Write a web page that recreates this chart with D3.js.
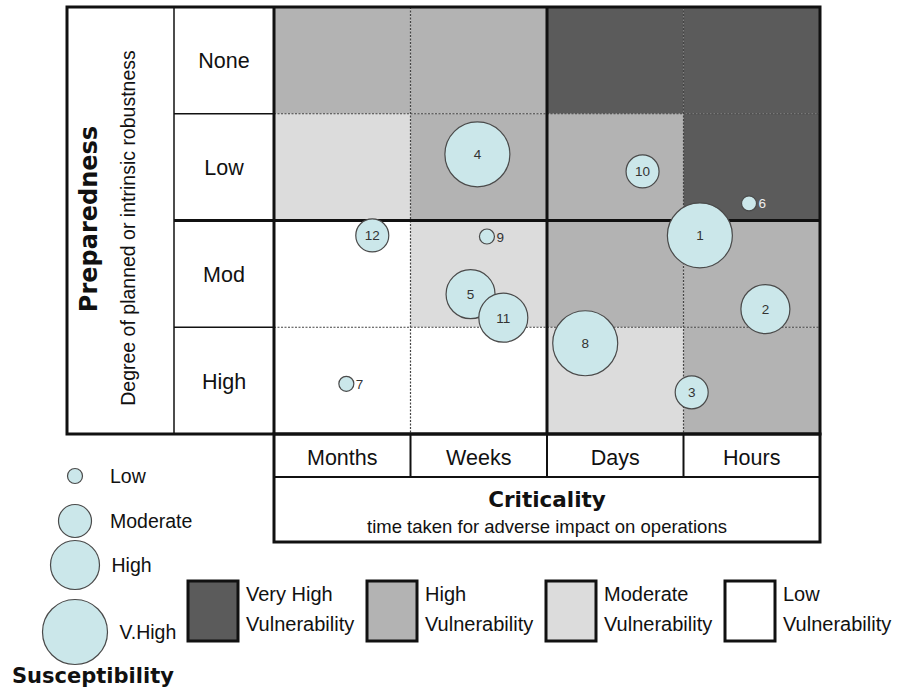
<!DOCTYPE html>
<html>
<head>
<meta charset="utf-8">
<script src="https://cdn.jsdelivr.net/npm/d3@7"></script>
<style>
  body { margin: 0; background: #fff; }
  text { font-family: "Liberation Sans", Arial, sans-serif; fill: #111; }
  .bold { font-family: "DejaVu Sans", sans-serif; font-weight: bold; }
</style>
</head>
<body>
<div id="app"></div>
<script>
// categories
var criticality = ["Months", "Weeks", "Days", "Hours"];
var preparedness = ["None", "Low", "Mod", "High"];
var vulnLevels = ["Very High", "High", "Moderate", "Low"];
var vulnColors = ["#5b5b5b", "#b3b3b3", "#dcdcdc", "#ffffff"];
// vulnerability class of each cell, rows = preparedness, cols = criticality
var vulnGrid = [
  [1, 1, 0, 0],
  [2, 1, 1, 0],
  [3, 2, 1, 1],
  [3, 3, 2, 1]
];
var susLevels = ["Low", "Moderate", "High", "V.High"];

// risks: position in column / row units (0..4), susceptibility class
var riskIds  = [1, 2, 3, 4, 5, 6, 7, 8, 9, 10, 11, 12];
var riskCrit = [3.12, 3.60, 3.06, 1.49, 1.44, 3.48, 0.53, 2.28, 1.56, 2.70, 1.68, 0.72];
var riskPrep = [2.14, 2.83, 3.61, 1.38, 2.69, 1.84, 3.53, 3.15, 2.15, 1.54, 2.91, 2.14];
var riskSus  = [3, 2, 1, 3, 2, 0, 0, 3, 0, 1, 2, 1];

var width = 901, height = 692;
var gx0 = 274, gx1 = 820, gy0 = 7, gy1 = 434;
var frameX = 67, labelX = 174;

var svg = d3.select("#app").append("svg").attr("width", width).attr("height", height);

var x = d3.scaleLinear().domain([0, 4]).range([gx0, gx1]);
var y = d3.scaleLinear().domain([0, 4]).range([gy0, gy1]);
var xb = d3.scaleBand().domain(criticality).range([gx0, gx1]);
var yb = d3.scaleBand().domain(preparedness).range([gy0, gy1]);
var r = d3.scaleOrdinal().domain([0, 1, 2, 3]).range([7.5, 16.5, 24.5, 32.5]);

// cells
var cells = [];
preparedness.forEach(function (p, i) {
  criticality.forEach(function (c, j) { cells.push({p: p, c: c, v: vulnGrid[i][j]}); });
});
svg.append("g").selectAll("rect").data(cells).join("rect")
  .attr("x", function (d) { return xb(d.c); })
  .attr("y", function (d) { return yb(d.p); })
  .attr("width", xb.bandwidth()).attr("height", yb.bandwidth())
  .attr("fill", function (d) { return vulnColors[d.v]; });

// dotted inner lines
var dots = svg.append("g").attr("stroke", "#444").attr("stroke-width", 1.2).attr("stroke-dasharray", "2,1.5");
[criticality[1], criticality[3]].forEach(function (c) {
  dots.append("line").attr("x1", xb(c)).attr("x2", xb(c)).attr("y1", gy0).attr("y2", gy1);
});
[preparedness[1], preparedness[3]].forEach(function (p) {
  dots.append("line").attr("x1", gx0).attr("x2", gx1).attr("y1", yb(p)).attr("y2", yb(p));
});

// label column lines
var lines = svg.append("g").attr("stroke", "#111");
[preparedness[1], preparedness[3]].forEach(function (p) {
  lines.append("line").attr("x1", labelX).attr("x2", gx0).attr("y1", yb(p)).attr("y2", yb(p)).attr("stroke-width", 1.5);
});
lines.append("line").attr("x1", labelX).attr("x2", labelX).attr("y1", gy0).attr("y2", gy1).attr("stroke-width", 1.5);

// quadrant lines
lines.append("line").attr("x1", labelX).attr("x2", gx1).attr("y1", yb("Mod")).attr("y2", yb("Mod")).attr("stroke-width", 3);
lines.append("line").attr("x1", xb("Days")).attr("x2", xb("Days")).attr("y1", gy0).attr("y2", gy1).attr("stroke-width", 3);
lines.append("line").attr("x1", gx0).attr("x2", gx0).attr("y1", gy0).attr("y2", gy1).attr("stroke-width", 3);

// outer frame
svg.append("rect").attr("x", frameX).attr("y", gy0).attr("width", gx1 - frameX).attr("height", gy1 - gy0)
  .attr("fill", "none").attr("stroke", "#111").attr("stroke-width", 3);

// row labels
svg.append("g").selectAll("text").data(preparedness).join("text")
  .attr("x", (labelX + gx0) / 2)
  .attr("y", function (d) { return yb(d) + yb.bandwidth() / 2 + 8; })
  .attr("text-anchor", "middle").style("font-size", "21.5px")
  .text(function (d) { return d; });

// y titles
svg.append("text").attr("class", "bold").attr("transform", "translate(97,219) rotate(-90)")
  .attr("text-anchor", "middle").style("font-size", "24px").text("Preparedness");
svg.append("text").attr("transform", "translate(135,228) rotate(-90)")
  .attr("text-anchor", "middle").style("font-size", "19.5px").text("Degree of planned or intrinsic robustness");

// criticality box
var cy0 = gy1, cy1 = 477, cy2 = 542;
svg.append("g").selectAll("line").data(criticality.slice(1)).join("line")
  .attr("x1", function (d) { return xb(d); }).attr("x2", function (d) { return xb(d); })
  .attr("y1", cy0).attr("y2", cy1).attr("stroke", "#111").attr("stroke-width", 2);
svg.append("line").attr("x1", gx0).attr("x2", gx1).attr("y1", cy1).attr("y2", cy1)
  .attr("stroke", "#111").attr("stroke-width", 2);
svg.append("rect").attr("x", gx0).attr("y", cy0).attr("width", gx1 - gx0).attr("height", cy2 - cy0)
  .attr("fill", "none").attr("stroke", "#111").attr("stroke-width", 3);
svg.append("g").selectAll("text").data(criticality).join("text")
  .attr("x", function (d) { return xb(d) + xb.bandwidth() / 2; })
  .attr("y", 465).attr("text-anchor", "middle").style("font-size", "21.5px")
  .text(function (d) { return d; });
svg.append("text").attr("class", "bold").attr("x", (gx0 + gx1) / 2).attr("y", 507)
  .attr("text-anchor", "middle").style("font-size", "21.5px").text("Criticality");
svg.append("text").attr("x", (gx0 + gx1) / 2).attr("y", 533)
  .attr("text-anchor", "middle").style("font-size", "18.5px").text("time taken for adverse impact on operations");

// bubbles
var risks = riskIds.map(function (id, i) {
  return {id: id, c: riskCrit[i], p: riskPrep[i], s: riskSus[i]};
});
var bub = svg.append("g").selectAll("g").data(risks).join("g")
  .attr("transform", function (d) { return "translate(" + x(d.c) + "," + y(d.p) + ")"; });
bub.append("circle").attr("r", function (d) { return r(d.s); })
  .attr("fill", "#cbe7ea").attr("stroke", "#4a4a4a").attr("stroke-width", 1.2);
bub.append("text")
  .attr("x", function (d) { return d.s === 0 ? r(d.s) + 2 : 0; })
  .attr("y", 5)
  .attr("text-anchor", function (d) { return d.s === 0 ? "start" : "middle"; })
  .style("font-size", "13.5px")
  .style("fill", function (d) { return d.s === 0 && d.id === 6 ? "#eee" : "#333"; })
  .text(function (d) { return d.id; });

// susceptibility legend
var legY = [476, 521, 565, 632];
var sl = svg.append("g").selectAll("g").data(susLevels).join("g")
  .attr("transform", function (d, i) { return "translate(75," + legY[i] + ")"; });
sl.append("circle").attr("r", function (d, i) { return r(i); })
  .attr("fill", "#cbe7ea").attr("stroke", "#4a4a4a").attr("stroke-width", 1.2);
sl.append("text").attr("x", function (d, i) { return Math.max(35, r(i) + 12); }).attr("y", 6.5)
  .style("font-size", "19.5px").text(function (d) { return d; });
svg.append("text").attr("class", "bold").attr("x", 12).attr("y", 683)
  .style("font-size", "21px").text("Susceptibility");

// vulnerability legend
var vl = svg.append("g").selectAll("g").data(vulnLevels).join("g")
  .attr("transform", function (d, i) { return "translate(" + (188 + i * 179) + ",581)"; });
vl.append("rect").attr("width", 50).attr("height", 60)
  .attr("fill", function (d, i) { return vulnColors[i]; })
  .attr("stroke", "#111").attr("stroke-width", 3);
vl.append("text").attr("x", 58).attr("y", 20).style("font-size", "20px").text(function (d) { return d; });
vl.append("text").attr("x", 58).attr("y", 50).style("font-size", "20px").text("Vulnerability");
</script>
</body>
</html>
